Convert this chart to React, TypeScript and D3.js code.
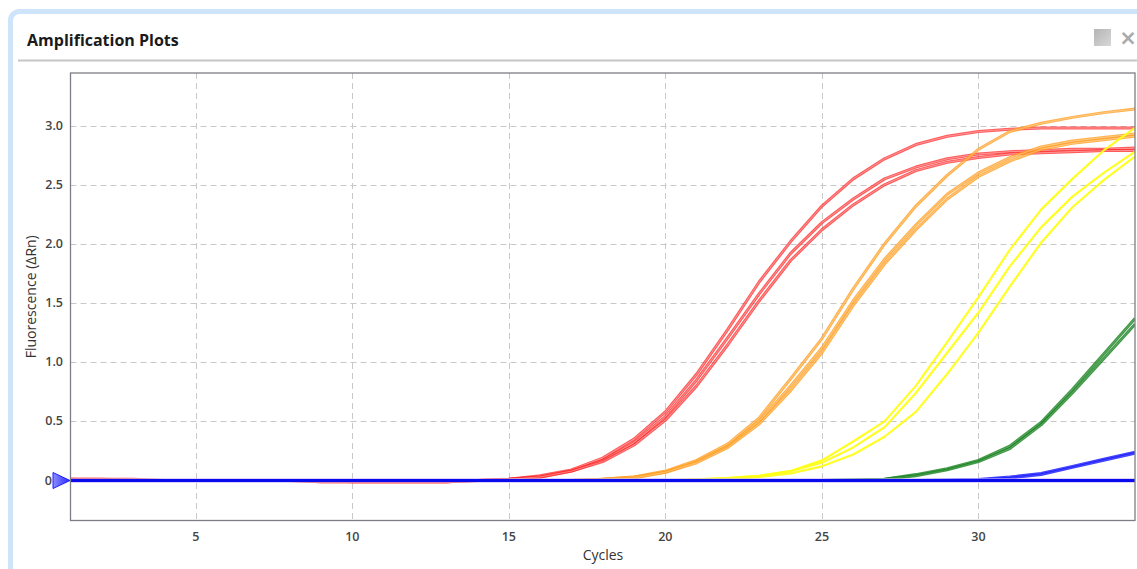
import { useMemo } from 'react'
import * as d3 from 'd3'

const cycles = d3.range(1, 36)

// one array per well, values for cycles 1..35
const redWells = [
  [0.01, 0.01, 0.01, 0.0, 0.0, 0.0, 0.0, 0.0, 0.0, -0.01, -0.01, -0.01, -0.01, 0.0,
    0.01, 0.04, 0.09, 0.19, 0.35, 0.58, 0.9, 1.28, 1.68, 2.02, 2.32, 2.55, 2.72, 2.84, 2.91, 2.95, 2.97, 2.98, 2.98, 2.98, 2.98],
  [0.01, 0.01, 0.0, 0.0, 0.0, 0.0, 0.0, 0.0, -0.01, -0.01, -0.01, -0.01, -0.01, 0.0,
    0.01, 0.03, 0.08, 0.17, 0.32, 0.54, 0.85, 1.21, 1.58, 1.92, 2.18, 2.38, 2.55, 2.65, 2.72, 2.76, 2.78, 2.79, 2.8, 2.8, 2.81],
  [0.01, 0.0, 0.0, 0.0, 0.0, 0.0, 0.0, 0.0, -0.01, -0.01, -0.01, -0.01, -0.01, 0.0,
    0.01, 0.03, 0.08, 0.16, 0.3, 0.51, 0.8, 1.15, 1.52, 1.86, 2.12, 2.33, 2.5, 2.62, 2.69, 2.73, 2.76, 2.77, 2.78, 2.79, 2.79],
]

const orangeWells = [
  [0.0, 0.0, 0.0, 0.0, 0.0, 0.0, 0.0, 0.0, 0.0, 0.0, 0.0, 0.0, 0.0, 0.0, 0.0, 0.0, 0.0,
    0.01, 0.03, 0.08, 0.17, 0.31, 0.53, 0.86, 1.2, 1.62, 2.0, 2.32, 2.58, 2.8, 2.95, 3.02, 3.07, 3.11, 3.14],
  [0.0, 0.0, 0.0, 0.0, 0.0, 0.0, 0.0, 0.0, 0.0, 0.0, 0.0, 0.0, 0.0, 0.0, 0.0, 0.0, 0.0,
    0.01, 0.03, 0.07, 0.16, 0.29, 0.5, 0.8, 1.12, 1.52, 1.87, 2.16, 2.42, 2.6, 2.73, 2.82, 2.87, 2.9, 2.93],
  [0.0, 0.0, 0.0, 0.0, 0.0, 0.0, 0.0, 0.0, 0.0, 0.0, 0.0, 0.0, 0.0, 0.0, 0.0, 0.0, 0.0,
    0.01, 0.02, 0.07, 0.15, 0.28, 0.48, 0.76, 1.08, 1.48, 1.83, 2.12, 2.38, 2.57, 2.7, 2.8, 2.85, 2.88, 2.91],
]

const yellowWells = [
  [0.0, 0.0, 0.0, 0.0, 0.0, 0.0, 0.0, 0.0, 0.0, 0.0, 0.0, 0.0, 0.0, 0.0, 0.0, 0.0, 0.0, 0.0, 0.0, 0.0,
    0.01, 0.02, 0.04, 0.08, 0.17, 0.33, 0.5, 0.8, 1.17, 1.55, 1.95, 2.29, 2.55, 2.79, 2.98],
  [0.0, 0.0, 0.0, 0.0, 0.0, 0.0, 0.0, 0.0, 0.0, 0.0, 0.0, 0.0, 0.0, 0.0, 0.0, 0.0, 0.0, 0.0, 0.0, 0.0,
    0.01, 0.02, 0.04, 0.08, 0.15, 0.28, 0.45, 0.74, 1.08, 1.42, 1.81, 2.14, 2.4, 2.6, 2.78],
  [0.0, 0.0, 0.0, 0.0, 0.0, 0.0, 0.0, 0.0, 0.0, 0.0, 0.0, 0.0, 0.0, 0.0, 0.0, 0.0, 0.0, 0.0, 0.0, 0.0,
    0.0, 0.01, 0.03, 0.06, 0.12, 0.22, 0.37, 0.58, 0.9, 1.25, 1.64, 2.01, 2.31, 2.54, 2.74],
]

const greenWells = [
  [0.0, 0.0, 0.0, 0.0, 0.0, 0.0, 0.0, 0.0, 0.0, 0.0, 0.0, 0.0, 0.0, 0.0, 0.0, 0.0, 0.0, 0.0, 0.0, 0.0,
    0.0, 0.0, 0.0, 0.0, 0.0, 0.005, 0.01, 0.05, 0.1, 0.17, 0.29, 0.49, 0.77, 1.07, 1.37],
  [0.0, 0.0, 0.0, 0.0, 0.0, 0.0, 0.0, 0.0, 0.0, 0.0, 0.0, 0.0, 0.0, 0.0, 0.0, 0.0, 0.0, 0.0, 0.0, 0.0,
    0.0, 0.0, 0.0, 0.0, 0.0, 0.005, 0.01, 0.04, 0.09, 0.16, 0.27, 0.47, 0.74, 1.03, 1.32],
]

const blueWells = [
  [0.0, 0.0, 0.0, 0.0, 0.0, 0.0, 0.0, 0.0, 0.0, 0.0, 0.0, 0.0, 0.0, 0.0, 0.0, 0.0, 0.0, 0.0, 0.0, 0.0,
    0.0, 0.0, 0.0, 0.0, 0.0, 0.0, 0.0, 0.0, 0.005, 0.01, 0.03, 0.06, 0.12, 0.18, 0.24],
  [0.0, 0.0, 0.0, 0.0, 0.0, 0.0, 0.0, 0.0, 0.0, 0.0, 0.0, 0.0, 0.0, 0.0, 0.0, 0.0, 0.0, 0.0, 0.0, 0.0,
    0.0, 0.0, 0.0, 0.0, 0.0, 0.0, 0.0, 0.0, 0.0, 0.005, 0.02, 0.05, 0.11, 0.17, 0.23],
]

// no template control
const ntcWell = [
  0.0, 0.0, 0.0, 0.0, 0.0, 0.0, 0.0, 0.0, 0.0, 0.0, 0.0, 0.0, 0.0, 0.0, 0.0, 0.0, 0.0, 0.0, 0.0, 0.0,
  0.0, 0.0, 0.0, 0.0, 0.0, 0.0, 0.0, 0.0, 0.0, 0.0, 0.0, 0.0, 0.0, 0.0, 0.0,
]

const xTicks = [5, 10, 15, 20, 25, 30]
const yTicks = [0, 0.5, 1.0, 1.5, 2.0, 2.5, 3.0]
const threshold = 0

const W = 1137
const H = 569
const plot = { left: 70.5, top: 73, right: 1135, bottom: 520.5 }
const font = '"Open Sans", "DejaVu Sans", sans-serif'

export default function App() {
  const x = useMemo(() => d3.scaleLinear().domain([1, 35]).range([plot.left, plot.right]), [])
  const y = useMemo(() => d3.scaleLinear().domain([-0.338, 3.445]).range([plot.bottom, plot.top]), [])

  const line = d3
    .line<number>()
    .x((_, i) => x(cycles[i]))
    .y((d) => y(d))

  // each well: a coloured edge stroke and a paler core, like the instrument's rendering
  const groups = [
    { wells: redWells, color: '#ff2626', width: 3, opacity: 0.75, core: 0.35 },
    { wells: orangeWells, color: '#ff9d1f', width: 3, opacity: 0.8, core: 0.3 },
    { wells: yellowWells, color: '#ffff1a', width: 2.2, opacity: 0.95, core: 0 },
    { wells: greenWells, color: '#13801a', width: 3, opacity: 0.8, core: 0.15 },
    { wells: blueWells, color: '#1010ff', width: 2.8, opacity: 0.8, core: 0.15 },
  ]

  const y0 = y(threshold)

  return (
    <svg width={W} height={H} style={{ position: 'absolute', left: 0, top: 0, fontFamily: font }}>
      <defs>
        <clipPath id="plotClip">
          <rect x={plot.left} y={plot.top} width={plot.right - plot.left} height={plot.bottom - plot.top} />
        </clipPath>
        <linearGradient id="iconGrad" x1="0" y1="0" x2="1" y2="1">
          <stop offset="0" stopColor="#b4b4b4" />
          <stop offset="1" stopColor="#d8d8d8" />
        </linearGradient>
        <linearGradient id="triGrad" x1="0" y1="0" x2="1" y2="0">
          <stop offset="0" stopColor="#8c8cff" />
          <stop offset="1" stopColor="#2828ff" />
        </linearGradient>
      </defs>

      {/* panel frame */}
      <rect x={0} y={0} width={W} height={H} fill="#fff" />
      <rect x={10.5} y={11.5} width={1300} height={700} rx={9} fill="#fff" stroke="#cde4fb" strokeWidth={5} />
      <text x={27} y={46} fontSize={16} fontWeight={700} fill="#1a1a1a">Amplification Plots</text>
      <line x1={18} x2={W} y1={60.5} y2={60.5} stroke="#c6c6c6" strokeWidth={2} />
      <rect x={1094} y={29} width={17} height={17} fill="url(#iconGrad)" />
      <text x={1128} y={45} fontSize={21} fontWeight={700} textAnchor="middle" fill="#aaa" fontFamily="DejaVu Sans">×</text>

      {/* grid */}
      <g stroke="#c8c8c8" strokeDasharray="6,4" strokeWidth={1}>
        {xTicks.map((t) => (
          <line key={'gx' + t} x1={Math.round(x(t)) + 0.5} x2={Math.round(x(t)) + 0.5} y1={plot.top} y2={plot.bottom} />
        ))}
        {yTicks.filter((t) => t !== 0).map((t) => (
          <line key={'gy' + t} x1={plot.left} x2={plot.right} y1={Math.round(y(t)) + 0.5} y2={Math.round(y(t)) + 0.5} />
        ))}
      </g>

      {/* curves */}
      <g clipPath="url(#plotClip)" fill="none" strokeLinejoin="round">
        {groups.map((g, gi) =>
          g.wells.map((w, wi) => (
            <g key={gi + '-' + wi}>
              <path d={line(w) ?? ''} stroke={g.color} strokeWidth={g.width} strokeOpacity={g.opacity} />
              {g.core > 0 && <path d={line(w) ?? ''} stroke="#fff" strokeWidth={1} strokeOpacity={g.core} />}
            </g>
          ))
        )}
        <path d={line(ntcWell) ?? ''} stroke="#c8b4f0" strokeWidth={5} strokeOpacity={0.6} />
        <path d={line(ntcWell) ?? ''} stroke="#0a0aef" strokeWidth={3} />
      </g>

      {/* plot border */}
      <rect x={plot.left} y={plot.top} width={plot.right - plot.left} height={plot.bottom - plot.top} fill="none" stroke="#7d7d85" strokeWidth={1.3} />

      {/* axes labels */}
      <g fontSize={12.5} fontWeight={600} fill="#444">
        {xTicks.map((t) => (
          <text key={'tx' + t} x={x(t)} y={541} textAnchor="middle">{t}</text>
        ))}
        {yTicks.map((t) => (
          <text key={'ty' + t} x={t === 0 ? 52 : 63} y={y(t) + 4} textAnchor="end">{t === 0 ? '0' : t.toFixed(1)}</text>
        ))}
      </g>
      <text x={603} y={560} fontSize={14} textAnchor="middle" fill="#333">Cycles</text>
      <text transform={`translate(36, ${(plot.top + plot.bottom) / 2}) rotate(-90)`} fontSize={14} textAnchor="middle" fill="#333">
        Fluorescence (ΔRn)
      </text>

      {/* threshold marker */}
      <path d={`M53,${y0 - 8}L70,${y0}L53,${y0 + 8}Z`} fill="url(#triGrad)" stroke="#2020ff" strokeWidth={1} />
    </svg>
  )
}
